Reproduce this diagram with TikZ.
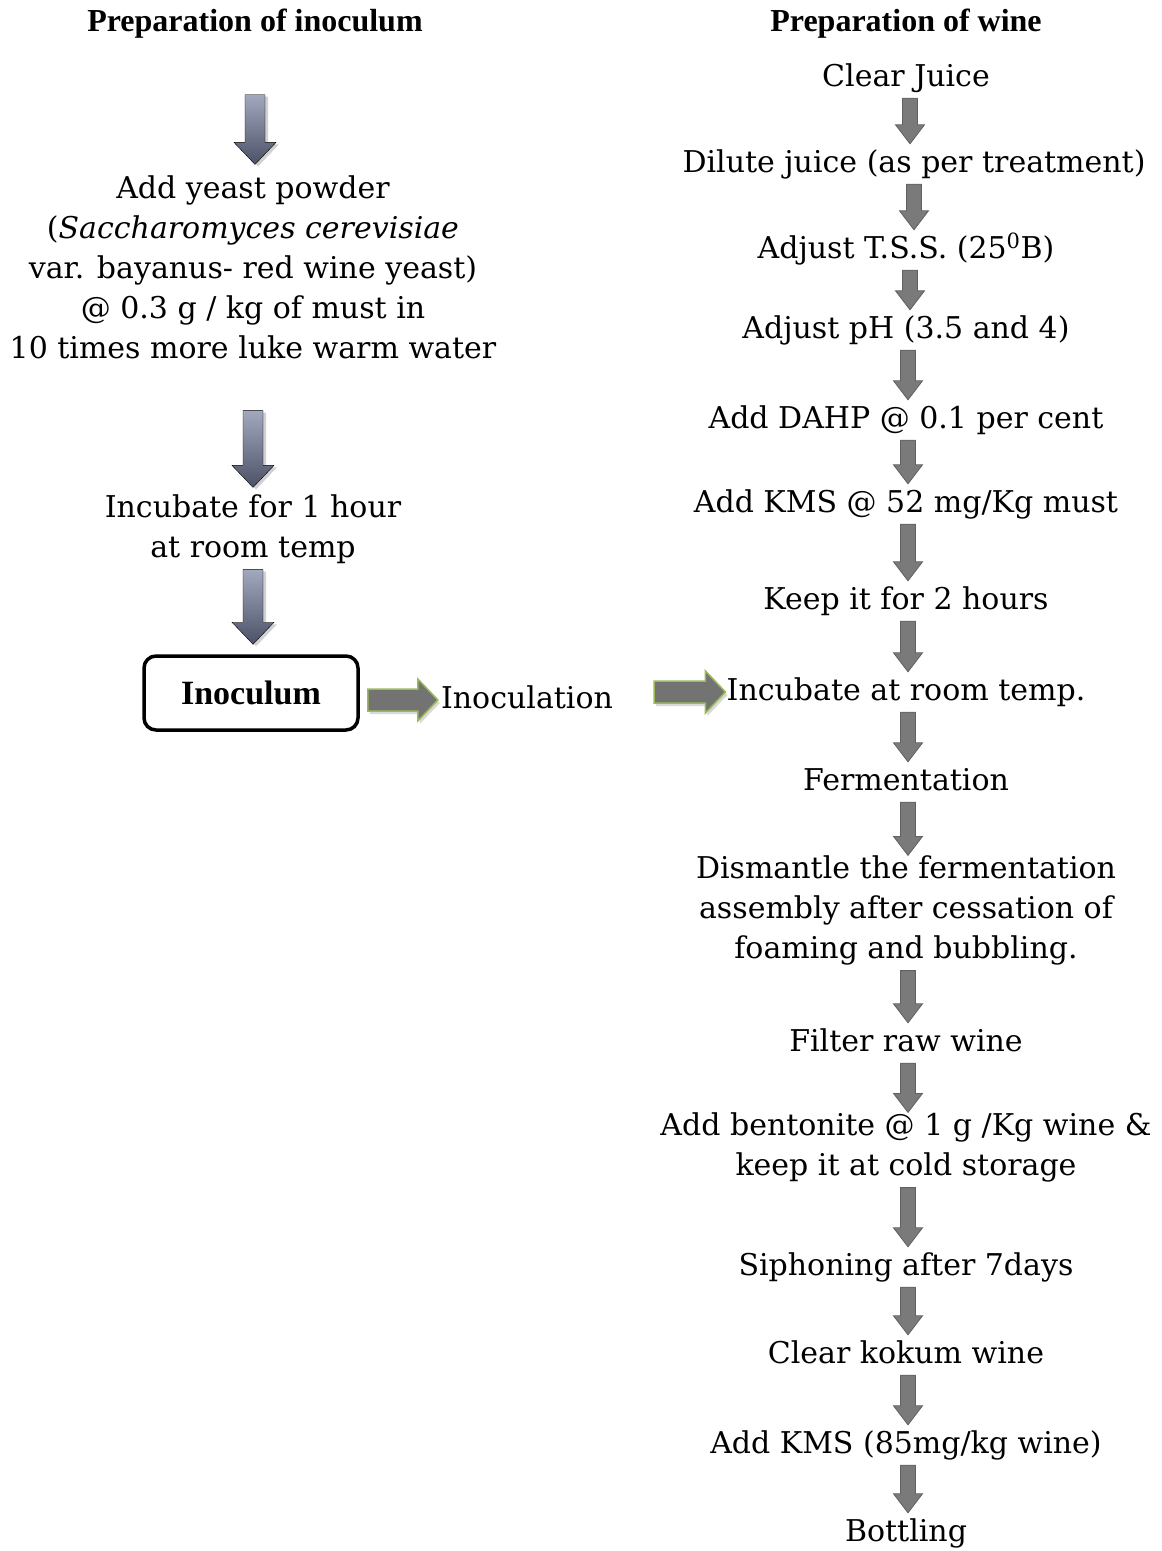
\documentclass[tikz,border=0pt]{standalone}
\usepackage{fontspec}
\setmainfont{DejaVu Serif}
\newfontfamily\headfont{Liberation Serif}
\usetikzlibrary{calc}
\definecolor{arrowgray}{RGB}{122,122,122}
\definecolor{arrowedge}{RGB}{96,96,96}
\definecolor{inoctop}{RGB}{162,168,190}
\definecolor{inocbottom}{RGB}{76,82,102}
\definecolor{leafgreen}{RGB}{155,187,89}
\newcommand{\flowfont}{\fontsize{30}{40}\selectfont}

\begin{document}
\begin{tikzpicture}[x=1pt, y=-1pt,
    heading/.style={font=\headfont\bfseries\fontsize{32}{38}\selectfont,
                    inner sep=0pt, text height=22pt, text depth=7pt},
    stage/.style={font=\flowfont, align=center, inner sep=0pt,
                  execute at begin node=\strut, execute at end node=\strut},
    inocbox/.style={draw, line width=3.5pt, rounded corners=12pt,
                    minimum width=214pt, minimum height=74pt,
                    font=\headfont\bfseries\fontsize{34}{38}\selectfont},
    winearrow/.style={fill=arrowgray, draw=arrowedge, line width=0.8pt,
        to path={let \p1=(\tikztostart), \p2=(\tikztotarget) in
          (\x1-7.5pt,\y1) -- (\x1+7.5pt,\y1) -- (\x1+7.5pt,\y2+19pt)
          -- (\x1+14.5pt,\y2+19pt) -- (\x1,\y2) -- (\x1-14.5pt,\y2+19pt)
          -- (\x1-7.5pt,\y2+19pt) -- cycle}},
    inocarrow/.style={top color=inoctop, bottom color=inocbottom,
        preaction={fill=black!18, transform canvas={xshift=3pt,yshift=-2pt}},
        to path={let \p1=(\tikztostart), \p2=(\tikztotarget) in
          (\x1-10pt,\y1) -- (\x1+10pt,\y1) -- (\x1+10pt,\y2+22pt)
          -- (\x1+21pt,\y2+22pt) -- (\x1,\y2) -- (\x1-21pt,\y2+22pt)
          -- (\x1-10pt,\y2+22pt) -- cycle}},
    sidearrow/.style={fill=arrowgray!105!white, draw=leafgreen, line width=1.5pt,
        preaction={fill=black!15, transform canvas={xshift=2pt,yshift=-3pt}},
        to path={let \p1=(\tikztostart), \p2=(\tikztotarget) in
          (\x1,\y2+11pt) -- (\x2-20pt,\y2+11pt) -- (\x2-20pt,\y2+21pt)
          -- (\x2,\y2) -- (\x2-20pt,\y2-21pt) -- (\x2-20pt,\y2-11pt)
          -- (\x1,\y2-11pt) -- cycle}}
]
\useasboundingbox (0,0) rectangle (1162,1551);

% inoculum side
\node[heading] (headL) at (255,24) {Preparation of inoculum};
\node[stage] (yeast) at (253,273) {Add yeast powder\\(\textit{Saccharomyces cerevisiae}\\var. bayanus- red wine yeast)\\@ 0.3 g / kg of must in\\10 times more luke warm water};
\node[stage] (hour) at (253,532) {Incubate for 1 hour\\at room temp};
\node[inocbox] (inoc) at (251,693) {Inoculum};
\node[stage] (inocn) at (527,700) {Inoculation};

% wine side
\node[heading] (headR) at (906,24) {Preparation of wine};
\node[stage] (juice) at (906,78) {Clear Juice};
\node[stage] (dilute) at (914,164) {Dilute juice (as per treatment)};
\node[stage] (tss) at (906,250) {Adjust T.S.S. (25\textsuperscript{0}B)};
\node[stage] (ph) at (906,330) {Adjust pH (3.5 and 4)};
\node[stage] (dahp) at (906,420) {Add DAHP @ 0.1 per cent};
\node[stage] (kms) at (906,504) {Add KMS @ 52 mg/Kg must};
\node[stage] (keep) at (906,601) {Keep it for 2 hours};
\node[stage] (incub) at (906,692) {Incubate at room temp.};
\node[stage] (ferm) at (906,782) {Fermentation};
\node[stage] (dismantle) at (906,913) {Dismantle the fermentation\\assembly after cessation of\\foaming and bubbling.};
\node[stage] (filter) at (906,1043) {Filter raw wine};
\node[stage] (bentonite) at (906,1150) {Add bentonite @ 1 g /Kg wine \&\\keep it at cold storage};
\node[stage] (siphon) at (906,1267) {Siphoning after 7days};
\node[stage] (kokum) at (906,1355) {Clear kokum wine};
\node[stage] (kms2) at (906,1445) {Add KMS (85mg/kg wine)};
\node[stage] (bottle) at (906,1533) {Bottling};

% block arrows
\draw[inocarrow] ([yshift=-56pt]headL.south) to ([yshift=11pt]yeast.north);
\draw[inocarrow] ([yshift=-40pt]yeast.south) to ([yshift=7pt]hour.north);
\draw[inocarrow] (hour.south) to ([yshift=10pt]inoc.north);
\draw[sidearrow] ([xshift=8pt]inoc.east) to ([xshift=-3pt]inocn.west);
\draw[sidearrow] ([xshift=41pt]inocn.east) to ([xshift=-1pt]incub.west);

\draw[winearrow] ([xshift=4pt]juice.south) to (dilute.north);
\draw[winearrow] (dilute.south) to (tss.north);
\draw[winearrow] ([xshift=4pt]tss.south) to (ph.north);
\draw[winearrow] ([xshift=2pt]ph.south) to (dahp.north);
\draw[winearrow] ([xshift=2pt]dahp.south) to (kms.north);
\draw[winearrow] ([xshift=2pt]kms.south) to (keep.north);
\draw[winearrow] ([xshift=2pt]keep.south) to (incub.north);
\draw[winearrow] ([xshift=2pt]incub.south) to (ferm.north);
\draw[winearrow] ([xshift=2pt]ferm.south) to (dismantle.north);
\draw[winearrow] ([xshift=2pt]dismantle.south) to (filter.north);
\draw[winearrow] ([xshift=2pt]filter.south) to (bentonite.north);
\draw[winearrow] ([xshift=2pt]bentonite.south) to (siphon.north);
\draw[winearrow] ([xshift=2pt]siphon.south) to (kokum.north);
\draw[winearrow] ([xshift=2pt]kokum.south) to (kms2.north);
\draw[winearrow] ([xshift=2pt]kms2.south) to (bottle.north);
\end{tikzpicture}
\end{document}
